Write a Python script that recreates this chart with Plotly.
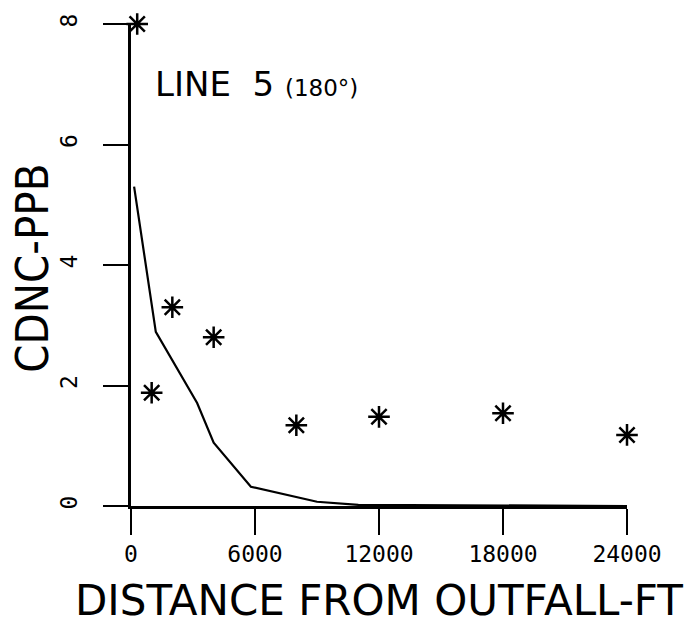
import plotly.graph_objects as go

# Measured concentrations along the transect (asterisks)
distance_obs = [300, 1000, 2000, 4000, 8000, 12000, 18000, 24000]
conc_obs = [8.0, 1.88, 3.30, 2.80, 1.34, 1.48, 1.54, 1.18]

# Model-predicted concentration profile (solid line)
distance_model = [150, 1200, 3200, 4000, 5800, 9000, 11000, 24000]
conc_model = [5.3, 2.89, 1.71, 1.05, 0.32, 0.07, 0.02, 0.0]

x_ticks = [0, 6000, 12000, 18000, 24000]
x_tick_labels = ["0", "6000", "12000", "18000", "24000"]
y_ticks = [0, 2, 4, 6, 8]
y_tick_labels = ["0", "2", "4", "6", "8"]

narrow_font = "DejaVu Sans Condensed, Liberation Sans Narrow, DejaVu Sans"
wide_font = "DejaVu Sans, Liberation Sans, sans-serif"
tick_font = "DejaVu Sans Mono, Liberation Mono, monospace"

fig = go.Figure()

fig.add_trace(go.Scatter(
    x=distance_model, y=conc_model, mode="lines",
    line=dict(color="black", width=2.2),
    cliponaxis=False, showlegend=False, hoverinfo="skip",
))

fig.add_trace(go.Scatter(
    x=distance_obs, y=conc_obs, mode="markers",
    marker=dict(symbol="asterisk-open", size=18, color="black",
                line=dict(color="black", width=2.5)),
    cliponaxis=False, showlegend=False,
))

fig.update_layout(
    width=692, height=626,
    margin=dict(l=131, r=65, t=24, b=120),
    paper_bgcolor="white", plot_bgcolor="white",
    showlegend=False,
    xaxis=dict(
        range=[0, 24000], tickmode="array", tickvals=x_ticks, ticktext=x_tick_labels,
        showgrid=False, zeroline=False, showline=True, linecolor="black", linewidth=2.5,
        ticks="outside", ticklen=26, tickwidth=2, tickcolor="black",
        tickfont=dict(family=tick_font, size=23, color="black"),
        title=dict(text="DISTANCE FROM OUTFALL-FT",
                   font=dict(family=wide_font, size=42, color="black"), standoff=20),
        automargin=False,
    ),
    yaxis=dict(
        range=[0, 8], tickmode="array", tickvals=y_ticks, ticktext=y_tick_labels,
        showgrid=False, zeroline=False, showline=True, linecolor="black", linewidth=2.5,
        ticks="outside", ticklen=25, tickwidth=2, tickcolor="black", tickangle=-90,
        ticklabelstandoff=17,
        tickfont=dict(family=tick_font, size=23, color="black"),
        automargin=False,
    ),
    annotations=[
        dict(
            text="LINE  5 <span style='font-size:23px'>(180°)</span>",
            xref="paper", yref="paper", x=0.045, y=0.875,
            xanchor="left", yanchor="middle", showarrow=False,
            font=dict(family=wide_font, size=34, color="black"),
        ),
        dict(
            text="CDNC-PPB", textangle=-90,
            xref="paper", yref="paper", x=-0.198, y=0.494,
            xanchor="center", yanchor="middle", showarrow=False,
            font=dict(family=narrow_font, size=45, color="black"),
        ),
    ],
)

fig.write_html("out.html")
